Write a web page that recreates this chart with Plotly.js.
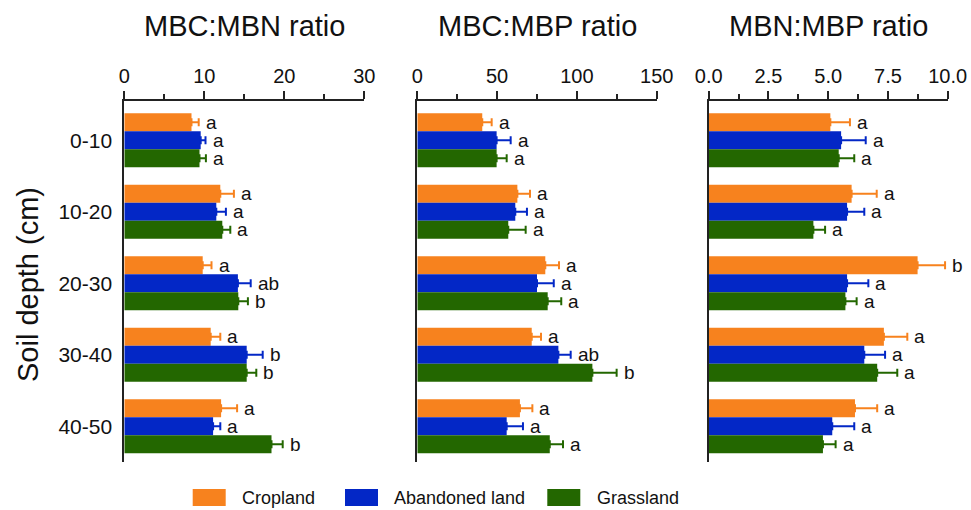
<!DOCTYPE html>
<html>
<head>
<meta charset="utf-8">
<script src="https://cdn.plot.ly/plotly-3.0.1.min.js"></script>
<style>html,body{margin:0;padding:0;background:#fff;}#chart{width:971px;height:510px;}</style>
</head>
<body>
<div id="chart"></div>
<script>
// ---- data ----
const depths = ["0-10", "10-20", "20-30", "30-40", "40-50"];
const seriesNames = ["Cropland", "Abandoned land", "Grassland"];
const seriesColors = ["#F7821E", "#0327C6", "#236700"];

const panelTitles = ["MBC:MBN ratio", "MBC:MBP ratio", "MBN:MBP ratio"];

// MBC:MBN
const cnCrop = [8.4, 12.0, 9.8, 10.8, 12.1];
const cnCropErr = [0.9, 1.7, 1.1, 1.2, 2.0];
const cnAband = [9.55, 11.5, 14.2, 15.3, 11.1];
const cnAbandErr = [0.6, 1.2, 1.6, 2.0, 0.9];
const cnGrass = [9.4, 12.25, 14.25, 15.3, 18.4];
const cnGrassErr = [0.8, 1.0, 1.2, 1.2, 1.4];
const cnCropSig = ["a", "a", "a", "a", "a"];
const cnAbandSig = ["a", "a", "ab", "b", "a"];
const cnGrassSig = ["a", "a", "b", "b", "b"];

// MBC:MBP
const cpCrop = [40.7, 62.7, 80.2, 71.7, 64.3];
const cpCropErr = [5.9, 7.9, 8.6, 5.8, 7.8];
const cpAband = [49.7, 61.4, 75.0, 88.4, 56.0];
const cpAbandErr = [8.8, 7.3, 10.5, 7.7, 10.2];
const cpGrass = [49.7, 57.0, 81.7, 109.7, 83.0];
const cpGrassErr = [6.3, 10.9, 8.5, 15.2, 8.3];
const cpCropSig = ["a", "a", "a", "a", "a"];
const cpAbandSig = ["a", "a", "a", "ab", "a"];
const cpGrassSig = ["a", "a", "a", "b", "a"];

// MBN:MBP
const npCrop = [5.09, 5.98, 8.74, 7.33, 6.12];
const npCropErr = [0.82, 1.05, 1.15, 0.98, 0.93];
const npAband = [5.54, 5.79, 5.79, 6.51, 5.17];
const npAbandErr = [1.03, 0.72, 0.89, 0.87, 0.92];
const npGrass = [5.44, 4.38, 5.72, 7.05, 4.78];
const npGrassErr = [0.65, 0.49, 0.47, 0.84, 0.53];
const npCropSig = ["a", "a", "b", "a", "a"];
const npAbandSig = ["a", "a", "a", "a", "a"];
const npGrassSig = ["a", "a", "a", "a", "a"];

const xRanges = [[0, 30], [0, 150], [0, 10]];
const xDtick = [10, 50, 2.5];
const xMinor = [5, 25, 1.25];
const xFormat = ["", "", ".1f"];

// ---- build ----
const FONT = "Liberation Sans, Arial, Helvetica, sans-serif";
const panels = [
  {vals: [cnCrop, cnAband, cnGrass], errs: [cnCropErr, cnAbandErr, cnGrassErr], sig: [cnCropSig, cnAbandSig, cnGrassSig]},
  {vals: [cpCrop, cpAband, cpGrass], errs: [cpCropErr, cpAbandErr, cpGrassErr], sig: [cpCropSig, cpAbandSig, cpGrassSig]},
  {vals: [npCrop, npAband, npGrass], errs: [npCropErr, npAbandErr, npGrassErr], sig: [npCropSig, npAbandSig, npGrassSig]}
];

const W = 971, H = 510;
const xPix = [[124.3, 364.3], [417.3, 656.7], [708.7, 947.7]];
const yTop = 101, yBot = 462;
const yDom = [1 - yBot / H, 1 - yTop / H];

const traces = [];
const annotations = [];
const layout = {
  width: W, height: H,
  margin: {l: 0, r: 0, t: 0, b: 0},
  paper_bgcolor: "#fff", plot_bgcolor: "#fff",
  barmode: "group", bargap: 0.245, bargroupgap: 0,
  showlegend: false,
  font: {family: FONT, color: "#111", size: 20},
  shapes: []
};

const bw = 0.755 / 3; // bar width in category units (for letter placement)

panels.forEach((p, k) => {
  const xa = k === 0 ? "x" : "x" + (k + 1);
  const ya = k === 0 ? "y" : "y" + (k + 1);
  p.vals.forEach((v, i) => {
    traces.push({
      type: "bar", orientation: "h",
      name: seriesNames[i],
      x: v, y: depths,
      xaxis: xa, yaxis: ya,
      marker: {color: seriesColors[i], line: {width: 0}},
      error_x: {type: "data", array: p.errs[i], arrayminus: v.map(() => 0), symmetric: false,
                color: seriesColors[i], thickness: 2, width: 4},
      hoverinfo: "x+y+name"
    });
    v.forEach((val, j) => {
      annotations.push({
        xref: xa, yref: ya,
        x: val + p.errs[i][j], y: j + (i - 1) * bw,
        text: p.sig[i][j], showarrow: false,
        xanchor: "left", yanchor: "middle", xshift: 5,
        font: {family: FONT, size: 19, color: "#111"}
      });
    });
  });
  layout["xaxis" + (k === 0 ? "" : k + 1)] = {
    domain: [xPix[k][0] / W, xPix[k][1] / W],
    anchor: ya, side: "top",
    range: xRanges[k], dtick: xDtick[k], tick0: 0, tickformat: xFormat[k],
    showline: true, linewidth: 2, linecolor: "#222",
    ticks: "outside", ticklen: 8, tickwidth: 2, tickcolor: "#222",
    minor: {ticks: "outside", ticklen: 5, tickwidth: 2, tickcolor: "#222", dtick: xMinor[k], tick0: 0, showgrid: false},
    showgrid: false, zeroline: false, fixedrange: true,
    tickfont: {family: FONT, size: 20, color: "#111"}
  };
  layout["yaxis" + (k === 0 ? "" : k + 1)] = {
    domain: yDom, anchor: xa,
    type: "category", categoryorder: "array", categoryarray: depths,
    range: [4.5, -0.55],
    showline: true, linewidth: 2, linecolor: "#222",
    ticks: "", showticklabels: k === 0, ticklabelstandoff: 6,
    showgrid: false, zeroline: false, fixedrange: true,
    tickfont: {family: FONT, size: 21, color: "#111"}
  };
  annotations.push({
    xref: "paper", yref: "paper",
    x: (xPix[k][0] + xPix[k][1]) / 2 / W, y: 1 - 26 / H,
    text: panelTitles[k], showarrow: false, xanchor: "center", yanchor: "middle",
    font: {family: FONT, size: 29, color: "#111"}
  });
});

// y-axis title
annotations.push({
  xref: "paper", yref: "paper", x: 28 / W, y: 1 - 285 / H,
  text: "Soil depth (cm)", textangle: -90, showarrow: false,
  xanchor: "center", yanchor: "middle",
  font: {family: FONT, size: 29, color: "#111"}
});

// custom legend
const legSwatchX = [192.7, 345, 547.3];
const legTextX = [240, 391.7, 595];
seriesNames.forEach((n, i) => {
  layout.shapes.push({
    type: "rect", xref: "paper", yref: "paper",
    x0: legSwatchX[i] / W, x1: (legSwatchX[i] + 33) / W,
    y0: 1 - 506 / H, y1: 1 - 489 / H,
    fillcolor: seriesColors[i], line: {width: 0}
  });
  annotations.push({
    xref: "paper", yref: "paper", x: legTextX[i] / W, y: 1 - 497.5 / H,
    text: n, showarrow: false, xanchor: "left", yanchor: "middle",
    font: {family: FONT, size: 18, color: "#111"}
  });
});

layout.annotations = annotations;
Plotly.newPlot("chart", traces, layout, {displayModeBar: false, staticPlot: true});
</script>
</body>
</html>
